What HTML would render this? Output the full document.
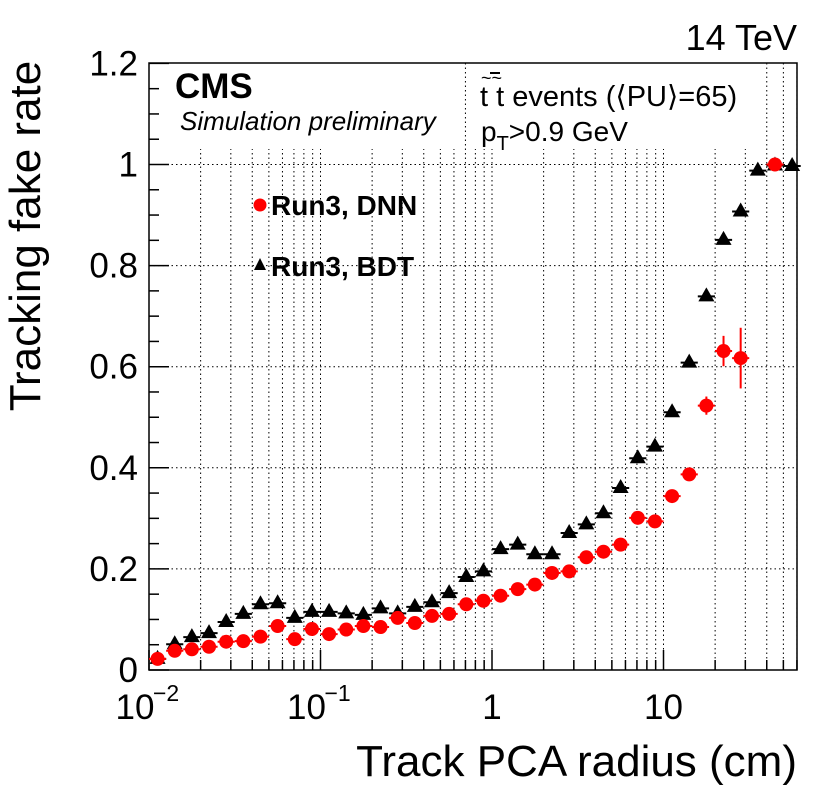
<!DOCTYPE html>
<html><head><meta charset="utf-8"><style>
html,body{margin:0;padding:0;background:#fff;}
svg{display:block;font-family:"Liberation Sans",sans-serif;}
</style></head><body>
<svg id="chart" width="830" height="797" viewBox="0 0 830 797" xmlns="http://www.w3.org/2000/svg">
<g id="grid"></g>
<rect x="151" y="63" width="305" height="86" fill="#fff"/>
<rect x="474" y="63" width="292" height="86" fill="#fff"/>
<g id="axes"></g>
<g id="series"></g>
<text x="797" y="50" text-anchor="end" font-size="36">14 TeV</text>
<text x="175" y="98" font-size="35" font-weight="bold">CMS</text>
<text x="180" y="130" font-size="26" font-style="italic">Simulation preliminary</text>
<text x="480" y="106" font-size="29">t t  events (⟨PU⟩=65)</text>
<text x="481" y="84" font-size="18">~~</text>
<line x1="490" y1="73" x2="500" y2="73" stroke="#000" stroke-width="2"/>
<text x="481" y="141" font-size="28">p<tspan font-size="20" dy="9">T</tspan><tspan dy="-9">&gt;0.9 GeV</tspan></text>
<circle cx="260" cy="205" r="6.5" fill="#ff0000"/>
<text x="271" y="215" font-size="28" font-weight="bold">Run3, DNN</text>
<path d="M260,258 L266,270 L254,270 Z" fill="#000"/>
<text x="271" y="276" font-size="28" font-weight="bold">Run3, BDT</text>
<text transform="translate(40,236) rotate(-90)" text-anchor="middle" font-size="44">Tracking fake rate</text>
<text x="797" y="776" text-anchor="end" font-size="44">Track PCA radius (cm)</text>
</svg>
<script>
const binCentersLog = [-1.95,-1.85,-1.75,-1.65,-1.55,-1.45,-1.35,-1.25,-1.15,-1.05,-0.95,-0.85,-0.75,-0.65,-0.55,-0.45,-0.35,-0.25,-0.15,-0.05,0.05,0.15,0.25,0.35,0.45,0.55,0.65,0.75,0.85,0.95,1.05,1.15,1.25,1.35,1.45,1.55,1.65,1.75];
const dnnValues = [0.022,0.038,0.041,0.046,0.056,0.057,0.066,0.087,0.061,0.081,0.071,0.080,0.087,0.085,0.103,0.093,0.107,0.111,0.130,0.137,0.147,0.160,0.169,0.192,0.195,0.223,0.234,0.248,0.301,0.294,0.344,0.387,0.523,0.631,0.617,null,1.0,null];
const dnnErrors = [0.004,0.003,0.003,0.003,0.003,0.003,0.003,0.004,0.003,0.003,0.003,0.003,0.003,0.003,0.004,0.004,0.004,0.004,0.004,0.004,0.004,0.004,0.004,0.005,0.005,0.005,0.006,0.006,0.007,0.008,0.008,0.01,0.018,0.03,0.06,0,0.004,0];
const bdtValues = [0.022,0.051,0.065,0.073,0.095,0.111,0.130,0.132,0.103,0.115,0.115,0.112,0.109,0.122,0.112,0.125,0.134,0.152,0.184,0.195,0.239,0.248,0.229,0.229,0.271,0.288,0.310,0.360,0.419,0.442,0.510,0.608,0.739,0.851,0.907,0.988,0.998,0.997];
const yTickLabels = ["0","0.2","0.4","0.6","0.8","1","1.2"];
const yTickValues = [0,0.2,0.4,0.6,0.8,1.0,1.2];
const xDecades = [-2,-1,0,1];
const xDecadeLabels = ["10","10","1","10"];
const xDecadeSup = ["−2","−1","",""];

const L=149,R=797,T=63,B=670;
const X=lg=>L+(lg+2)*171.5;
const Y=v=>B-v*505.5;
const NS="http://www.w3.org/2000/svg";
function mk(parent,tag,attrs){const e=document.createElementNS(NS,tag);for(const k in attrs)e.setAttribute(k,attrs[k]);parent.appendChild(e);return e;}
const grid=document.getElementById('grid'),axes=document.getElementById('axes'),series=document.getElementById('series');

for(let d=-2;d<=1;d++){
  for(let m=1;m<=9;m++){
    const lg=d+Math.log10(m); const x=X(lg);
    if(x<=L+0.5||x>=R) continue;
    const g=mk(grid,'line',{x1:x,y1:T,x2:x,y2:B,stroke:'#000','stroke-width':1,'stroke-dasharray':'1.5,3'});
    
    
    const t=mk(axes,'line',{x1:x,y1:B,x2:x,y2:B-(m===1?20:10),stroke:'#000','stroke-width':1.5});
    
    
  }
}
{const x=X(-2);const t=mk(axes,'line',{x1:x,y1:B,x2:x,y2:B-20,stroke:'#000','stroke-width':1.5});

}
yTickValues.forEach(v=>{
  if(v>0&&v<1.2){const g=mk(grid,'line',{x1:L,y1:Y(v),x2:R,y2:Y(v),stroke:'#000','stroke-width':1,'stroke-dasharray':'1.5,3'});
  
  }
});
for(let i=0;i<=24;i++){
  const v=i*0.05; const major=(i%4===0);
  const t=mk(axes,'line',{x1:L,y1:Y(v),x2:L+(major?20:10),y2:Y(v),stroke:'#000','stroke-width':1.5});
  
  
}
yTickValues.forEach((v,i)=>{
  const t=mk(axes,'text',{x:138,y:Y(v)+12,'text-anchor':'end','font-size':35});
  t.textContent=yTickLabels[i];
  
  
});
xDecades.forEach((d,i)=>{
  const x=X(d);
  const t=mk(axes,'text',{x:xDecadeSup[i]?x-14:x,y:719,'text-anchor':'middle','font-size':35});
  t.textContent=xDecadeLabels[i];
  
  
  if(xDecadeSup[i]){const s=mk(axes,'text',{x:x+4,y:701,'font-size':23});s.textContent=xDecadeSup[i];
  
  }
});
const fr=mk(axes,'rect',{x:L,y:T,width:R-L,height:B-T,fill:'none',stroke:'#000','stroke-width':1.5});



binCentersLog.forEach((lg,i)=>{
  const v=bdtValues[i]; if(v==null) return;
  const x=X(lg),y=Y(v);
  const h=mk(series,'line',{x1:X(lg-0.05),y1:y,x2:X(lg+0.05),y2:y,stroke:'#000','stroke-width':2});
  
  
  const p=mk(series,'path',{d:`M${x},${y-9} L${x+8},${y+5} L${x-8},${y+5} Z`,fill:'#000'});
  
  
});
binCentersLog.forEach((lg,i)=>{
  const v=dnnValues[i]; if(v==null) return;
  const x=X(lg),y=Y(v),e=dnnErrors[i];
  const h=mk(series,'line',{x1:X(lg-0.05),y1:y,x2:X(lg+0.05),y2:y,stroke:'#ff0000','stroke-width':2});
  
  
  const ve=mk(series,'line',{x1:x,y1:Y(v-e),x2:x,y2:Y(v+e),stroke:'#ff0000','stroke-width':2});
  
  
  const c=mk(series,'circle',{cx:x,cy:y,r:7,fill:'#ff0000'});
  
  
});
</script>
</body></html>
